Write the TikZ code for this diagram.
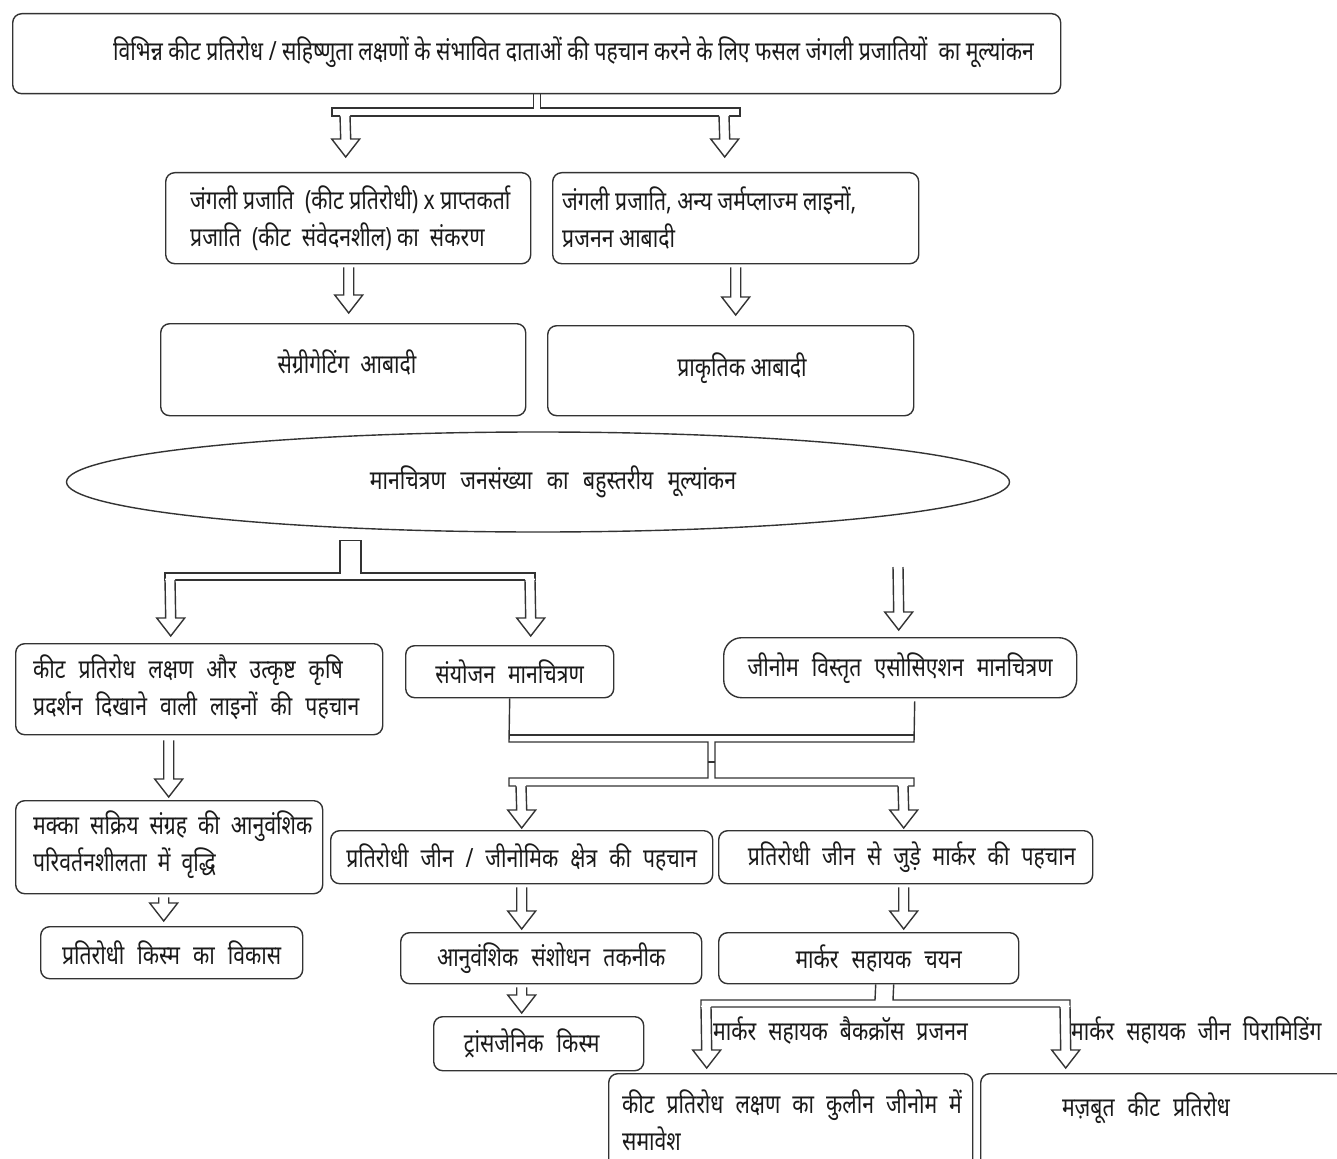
\documentclass[tikz,border=0pt]{standalone}
\usepackage{fontspec}
\newfontfamily\hindi[Script=Devanagari,FakeStretch=0.8]{Noto Sans}
\usetikzlibrary{calc,shapes.geometric}
\definecolor{linec}{HTML}{333333}
\definecolor{txtc}{HTML}{1A1A1A}
\protected\def\widesp#1{\spaceskip=#1 plus 2pt minus 1pt\relax}
\newcommand\harrow[2]{%
  \path #1 coordinate (hs) #2 coordinate (he);
  \fill[white] ($(hs)+(-5,-1.4)$) -- ($(he)+(-5,-18)$) -- ($(he)+(-14,-18)$) -- (he) -- ($(he)+(14,-18)$) -- ($(he)+(5,-18)$) -- ($(hs)+(5,-1.4)$) -- cycle;
  \draw[pipe] ($(hs)+(-5,0)$) -- ($(he)+(-5,-18)$) -- ($(he)+(-14,-18)$) -- (he) -- ($(he)+(14,-18)$) -- ($(he)+(5,-18)$) -- ($(hs)+(5,0)$);
}
\begin{document}
\begin{tikzpicture}[x=1pt,y=-1pt,
  box/.style={draw=linec, line width=1.4pt, rounded corners=9pt, fill=white, anchor=north west, inner sep=0pt},
  pipe/.style={draw=linec, line width=1.4pt, line join=miter},
  txt/.style={font=\hindi\fontsize{26.5}{37}\selectfont, text=txtc, inner sep=0pt, align=left},
  wide/.style={txt, font=\hindi\fontsize{26.5}{37}\selectfont\widesp{#1}},
  wide/.default=13pt,
]
\useasboundingbox (0,0) rectangle (1337,1158);
\fill[white] (0,0) rectangle (1337,1158);
\clip (0,0) rectangle (1337,1158);

% boxes
\node[box, minimum width=1048, minimum height=80] (N0) at (12,13) {};
\node[txt, anchor=west] (N0t) at (113,52) {विभिन्न कीट प्रतिरोध / सहिष्णुता लक्षणों के संभावित दाताओं की पहचान करने के लिए फसल जंगली प्रजातियों \ का मूल्यांकन};
\node[box, minimum width=365, minimum height=91] (A) at (165,172) {};
\node[txt, anchor=west] (At) at (190,218) {जंगली प्रजाति \ (कीट प्रतिरोधी) x प्राप्तकर्ता\\प्रजाति \ (कीट \ संवेदनशील) का \ संकरण};
\node[box, minimum width=366, minimum height=91] (B) at (552,172) {};
\node[txt, anchor=west] (Bt) at (562,218) {जंगली प्रजाति, अन्य जर्मप्लाज्म लाइनों,\\प्रजनन आबादी};
\node[box, minimum width=365, minimum height=92] (C) at (160,323) {};
\node[txt] (Ct) at (347,362) {सेग्रीगेटिंग \ आबादी};
\node[box, minimum width=366, minimum height=90] (D) at (547,325) {};
\node[txt] (Dt) at (742,368) {प्राकृतिक आबादी};
\node[ellipse, draw=linec, line width=1.4pt, minimum width=943, minimum height=100, wide=14.5pt] (EL) at (538,482) {\hspace*{30pt}मानचित्रण जनसंख्या का बहुस्तरीय मूल्यांकन};
\node[box, minimum width=367, minimum height=91] (E) at (15,643) {};
\node[wide, anchor=west] (Et) at (33,687) {कीट प्रतिरोध लक्षण और उत्कृष्ट कृषि\\प्रदर्शन दिखाने वाली लाइनों की पहचान};
\node[box, minimum width=208, minimum height=52, wide, align=center] (F) at (405,645) {संयोजन मानचित्रण};
\node[box, rounded corners=18pt, minimum width=353, minimum height=60, wide, align=center] (G) at (723,637) {जीनोम विस्तृत एसोसिएशन मानचित्रण};
\node[box, minimum width=307, minimum height=93] (H) at (15,800) {};
\node[wide=11pt, anchor=west] (Ht) at (33,845) {मक्का सक्रिय संग्रह की आनुवंशिक\\परिवर्तनशीलता में वृद्धि};
\node[box, minimum width=382, minimum height=53, wide=12pt, align=center] (I) at (330,830) {प्रतिरोधी जीन / जीनोमिक क्षेत्र की पहचान};
\node[box, minimum width=374, minimum height=53, wide=12pt, align=center] (J) at (718,830) {\hspace*{12pt}प्रतिरोधी जीन से जुड़े मार्कर की पहचान};
\node[box, minimum width=262, minimum height=52, wide, align=center] (K) at (40,926) {प्रतिरोधी किस्म का विकास};
\node[box, minimum width=301, minimum height=51, wide, align=center] (L) at (400,932) {आनुवंशिक संशोधन तकनीक};
\node[box, minimum width=300, minimum height=51, wide, align=center] (M) at (718,932) {\hspace*{20pt}मार्कर सहायक चयन};
\node[box, minimum width=210, minimum height=54, wide, align=center] (N) at (433,1016) {ट्रांसजेनिक किस्म\hspace*{14pt}};
\node[box, minimum width=364, minimum height=110] (O) at (608,1073) {};
\node[wide=12pt, anchor=west] (Ot) at (622,1120) {कीट प्रतिरोध लक्षण का कुलीन जीनोम में\\समावेश};
\node[box, minimum width=370, minimum height=110] (P) at (980,1073) {};
\node[wide] (Pt) at (1146,1108) {मज़बूत कीट प्रतिरोध};

% connector 1: top box to A and B
\draw[pipe] ($(N0.south)+(-3.5,0)$) |- (332,108) -- (332,116) -- (740,116) -- (740,108) -| ($(N0.south)+(3.5,0)$);
\harrow{(345,116)}{($(A.north)+(-2.5,-15)$)}
\harrow{(724,116)}{($(B.north)+(-11,-15)$)}
\harrow{($(A.south)+(0.5,3)$)}{($(A.south |- C.north)+(0.5,-10)$)}
\harrow{($(B.south)+(0,3)$)}{($(B.south |- D.north)+(0,-10)$)}

% connector 2: ellipse to E and F
\coordinate (s2) at ($(EL.south)+(-187.5,8)$);
\draw[pipe] (165,580) -- (165,573) -| ($(s2)+(-10.5,0)$) -- ($(s2)+(10.5,0)$) |- (535,573) -- (535,580) -- cycle;
\harrow{(170,580)}{($(E.north)+(-28.5,-7)$)}
\harrow{(530,580)}{($(F.north)+(21,-9)$)}
\coordinate (gin) at (898,567);
\harrow{(gin)}{($(G.north)+(-1.5,-7)$)}
\harrow{($(E.south)+(-30.5,5)$)}{($(E.south |- H.north)+(-30.5,-3)$)}
\harrow{($(H.south)+(-5.5,3)$)}{($(H.south |- K.north)+(-5.5,-5)$)}

% connector 3: F and G merge to I and J
\draw[pipe] (F.south) -- (509,742) -- (708,742) -- (708,778) -- (509,778) -- (509,786) -- (914,786) -- (914,778) -- (715,778) -- (715,742) -- (914,742) -- ($(G.south)+(14.5,3)$);
\draw[pipe] (509,735) -- (914,735);
\draw[pipe] (708,762) -- (715,762);
\harrow{(521,786)}{($(I.north)+(0,-2)$)}
\harrow{(903,786)}{($(J.north)+(-2,-2)$)}
\harrow{($(I.south)+(0,3)$)}{($(I.south |- L.north)+(0,-3)$)}
\harrow{($(J.south)+(-2,3)$)}{($(J.south |- M.north)+(-2,-3)$)}
\harrow{($(L.south)+(-29.5,3)$)}{($(L.south |- N.north)+(-29.5,-3)$)}

% connector 4: M to O and P
\draw[pipe] ($(M.south)+(7,0)$) -- (875,1000) -- (701,1000) -- (701,1007) -- (1070,1007) -- (1070,1000) -- (893,1000) -- ($(M.south)+(25,0)$);
\harrow{(706,1007)}{($(O.north)+(-84,-5)$)}
\harrow{(1065,1007)}{($(P.north)+(-100,-5)$)}
\node[wide=12pt, anchor=west] (lb1) at (713,1030) {मार्कर सहायक बैकक्रॉस प्रजनन};
\node[wide=12pt, anchor=west] (lb2) at (1071,1030) {मार्कर सहायक जीन पिरामिडिंग};
\end{tikzpicture}
\end{document}
